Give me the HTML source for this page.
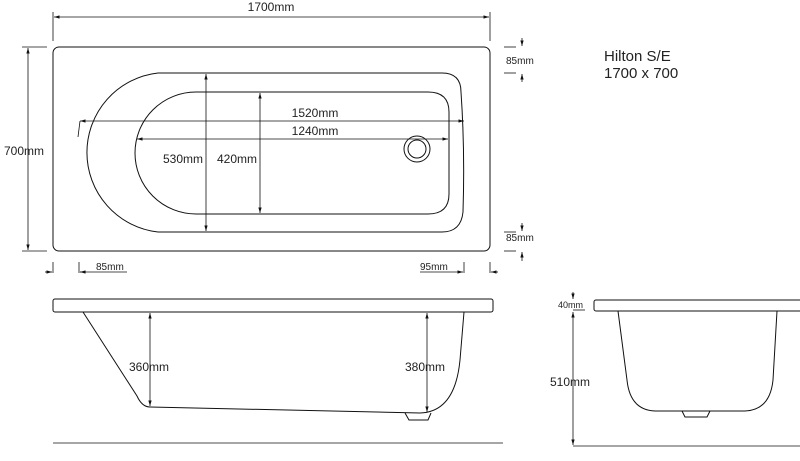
<!DOCTYPE html>
<html><head><meta charset="utf-8"><style>
html,body{margin:0;padding:0;background:#fff;width:800px;height:461px;overflow:hidden}
svg{display:block}
text{font-family:"Liberation Sans",sans-serif;fill:#222}
</style></head><body>
<svg width="800" height="461" viewBox="0 0 800 461" xmlns="http://www.w3.org/2000/svg">
<defs>
<marker id="a" viewBox="0 0 10 10" refX="10" refY="5" markerWidth="7" markerHeight="7" orient="auto-start-reverse"><path d="M0,2 L10,5 L0,8 z" fill="#111"/></marker>
</defs>
<g fill="none" stroke="#111" stroke-width="1">
<rect x="53" y="47" width="437" height="204" rx="6"/>
<path d="M158,73 L442,73 Q461,73 461,92 Q465,150 463,212 Q461,232 442,232 L158,232 A80,80 0 0 1 158,73 Z"/>
<path d="M196,92 L428,92 Q449,92 449,112 L449,194 Q449,214 428,214 L196,214 A61,61 0 0 1 196,92 Z"/>
<circle cx="417" cy="149" r="13"/><circle cx="417" cy="149" r="9"/>
<g stroke-width="0.8">
<line x1="53" y1="12" x2="53" y2="41"/><line x1="490" y1="12" x2="490" y2="41"/>
<line x1="54" y1="17" x2="489" y2="17" marker-start="url(#a)" marker-end="url(#a)"/>
<line x1="22" y1="47" x2="47" y2="47"/><line x1="22" y1="251" x2="47" y2="251"/>
<line x1="28" y1="48" x2="28" y2="250" marker-start="url(#a)" marker-end="url(#a)"/>
<line x1="80" y1="121" x2="464" y2="121" marker-start="url(#a)" marker-end="url(#a)"/>
<line x1="80" y1="121" x2="78" y2="137"/>
<line x1="137" y1="139" x2="448" y2="139" marker-start="url(#a)" marker-end="url(#a)"/>
<line x1="206" y1="74" x2="206" y2="231" marker-start="url(#a)" marker-end="url(#a)"/>
<line x1="260" y1="93" x2="260" y2="213" marker-start="url(#a)" marker-end="url(#a)"/>
<line x1="504" y1="47" x2="516" y2="47"/><line x1="504" y1="73" x2="516" y2="73"/>
<line x1="522" y1="38" x2="522" y2="46" marker-end="url(#a)"/><line x1="522" y1="82" x2="522" y2="74" marker-end="url(#a)"/>
<line x1="504" y1="232" x2="516" y2="232"/><line x1="504" y1="251" x2="516" y2="251"/>
<line x1="522" y1="223" x2="522" y2="231" marker-end="url(#a)"/><line x1="522" y1="261" x2="522" y2="252" marker-end="url(#a)"/>
<line x1="53" y1="262" x2="53" y2="273"/><line x1="79" y1="262" x2="79" y2="273"/>
<line x1="45" y1="272" x2="52" y2="272" marker-end="url(#a)"/><line x1="86" y1="272" x2="80" y2="272" marker-end="url(#a)"/>
<line x1="80" y1="272" x2="127" y2="272"/>
<line x1="464" y1="262" x2="464" y2="273"/><line x1="490" y1="262" x2="490" y2="273"/>
<line x1="420" y1="272" x2="463" y2="272" marker-end="url(#a)"/><line x1="498" y1="272" x2="491" y2="272" marker-end="url(#a)"/>
</g>
<rect x="53" y="299" width="440" height="13" rx="2"/>
<path d="M83,312 L137,396 Q142,407 150,407 L420,413 Q455,412 460,360 L464,312"/>
<path d="M405,413 L409,420 L428,420 L431,413"/>
<g stroke-width="0.8">
<line x1="150" y1="313" x2="150" y2="406" marker-start="url(#a)" marker-end="url(#a)"/>
<line x1="427" y1="313" x2="427" y2="412" marker-start="url(#a)" marker-end="url(#a)"/>
</g>
<line x1="53" y1="443" x2="503" y2="443" stroke-width="0.8"/>
<rect x="594" y="300" width="220" height="11" rx="2"/>
<path d="M618,311 L627,380 Q630,410 655,411 L745,411 Q770,410 773,380 L777,311"/>
<path d="M682,411 L685,417 L707,417 L710,411"/>
<g stroke-width="0.8">
<line x1="573" y1="292" x2="573" y2="299" marker-end="url(#a)"/>
<line x1="573" y1="310" x2="585" y2="310"/>
<line x1="573" y1="312" x2="573" y2="445" marker-start="url(#a)" marker-end="url(#a)"/>
<line x1="573" y1="446" x2="800" y2="446"/>
</g>
</g>
<g font-size="12">
<text x="271" y="11" text-anchor="middle">1700mm</text>
<text x="4" y="155">700mm</text>
<text x="315" y="117" text-anchor="middle">1520mm</text>
<text x="315" y="135" text-anchor="middle">1240mm</text>
<text x="203" y="163" text-anchor="end">530mm</text>
<text x="257" y="163" text-anchor="end">420mm</text>
<text x="506" y="64" font-size="10">85mm</text>
<text x="506" y="241" font-size="10">85mm</text>
<text x="96" y="270" font-size="10">85mm</text>
<text x="420" y="270" font-size="10">95mm</text>
<text x="129" y="371">360mm</text>
<text x="405" y="371">380mm</text>
<text x="558" y="308" font-size="9">40mm</text>
<text x="550" y="386">510mm</text>
</g>
<text x="604" y="61" font-size="15">Hilton S/E</text>
<text x="604" y="78" font-size="15">1700 x 700</text>
</svg>
</body></html>
